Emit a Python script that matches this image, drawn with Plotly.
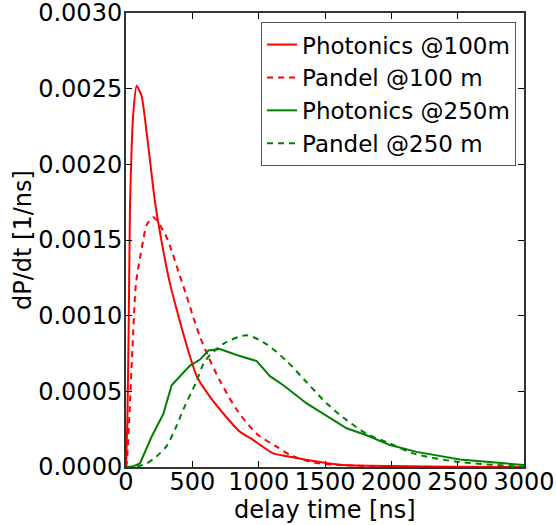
import plotly.graph_objects as go

# Photonics @100m
t_ph100 = [0, 10, 20, 30, 43, 55, 80, 118, 168, 219, 281, 332, 382, 432, 482, 533, 620, 708, 859, 960, 1110, 1286, 1613,
           2000, 2500, 3000]
v_ph100 = [0, 0.0003, 0.0009, 0.00172, 0.00212, 0.00234, 0.00252, 0.00245, 0.00212, 0.00175, 0.00143, 0.00121, 0.00104,
           0.00088, 0.00073, 0.0006, 0.00048, 0.00038, 0.000233, 0.000178, 0.00009, 0.00006, 0.000015, 0.000006,
           0.000002, 0.0]

# Pandel @100 m
t_pa100 = [0, 5, 25, 48, 75, 105, 130, 156, 206, 294, 344, 407, 457, 507, 558, 620, 708, 834, 985, 1136, 1236, 1412, 1613,
           2000, 3000]
v_pa100 = [0, 0.00002, 0.00033, 0.00077, 0.00121, 0.00138, 0.0015, 0.0016, 0.00165, 0.00154, 0.00143, 0.00126, 0.00113,
           0.00099, 0.00086, 0.00073, 0.00057, 0.00038, 0.00022, 0.000134, 0.00008, 0.00003, 0.000013, 0.000003, 0.0]

# Photonics @250m
t_ph250 = [0, 50, 105, 193, 281, 344, 482, 558, 620, 708, 834, 985, 1085, 1186, 1362, 1513, 1663, 1814, 1990, 2191, 2517, 3000]
v_ph250 = [0, 0.000003, 0.000024, 0.0002, 0.00035, 0.00054, 0.00067, 0.00071, 0.00077, 0.00078, 0.00074, 0.0007, 0.0006,
           0.00054, 0.00042, 0.00034, 0.000256, 0.00021, 0.000145, 0.0001, 0.00005, 0.000013]

# Pandel @250 m
t_pa250 = [0, 80, 156, 230, 307, 370, 432, 533, 583, 633, 746, 910, 1060, 1211, 1362, 1513, 1663, 1814, 1990, 2166, 2492, 3000]
v_pa250 = [0, 0.000003, 0.000024, 0.00007, 0.00014, 0.00025, 0.00038, 0.00057, 0.00068, 0.00074, 0.00082, 0.00087, 0.00081,
           0.0007, 0.00056, 0.00042, 0.00031, 0.00022, 0.000155, 0.00009, 0.000035, 0.000002]

x_ticks = [0, 500, 1000, 1500, 2000, 2500, 3000]
y_ticks = [0.0, 0.0005, 0.0010, 0.0015, 0.0020, 0.0025, 0.0030]
y_tick_text = ["0.0000", "0.0005", "0.0010", "0.0015", "0.0020", "0.0025", "0.0030"]

x_title = "delay time [ns]"
y_title = "dP/dt [1/ns]"

RED = "#ff0000"
GREEN = "#008000"
FONT = "DejaVu Sans"
FS = 24

fig = go.Figure()
fig.add_trace(go.Scatter(x=t_ph100, y=v_ph100, mode="lines", name="Photonics @100m",
                         line=dict(color=RED, width=2, shape="spline", smoothing=0.5)))
fig.add_trace(go.Scatter(x=t_pa100, y=v_pa100, mode="lines", name="Pandel @100 m",
                         line=dict(color=RED, width=2, dash="6px,5px", shape="spline", smoothing=0.8)))
fig.add_trace(go.Scatter(x=t_ph250, y=v_ph250, mode="lines", name="Photonics @250m",
                         line=dict(color=GREEN, width=2)))
fig.add_trace(go.Scatter(x=t_pa250, y=v_pa250, mode="lines", name="Pandel @250 m",
                         line=dict(color=GREEN, width=2, dash="6px,5px", shape="spline", smoothing=0.8)))

fig.update_layout(
    width=556, height=525,
    margin=dict(l=126, r=32, t=13, b=58, autoexpand=False),
    paper_bgcolor="white", plot_bgcolor="white",
    font=dict(family=FONT, size=FS, color="black"),
    showlegend=True,
    legend=dict(x=0.98, y=0.98, xanchor="right", yanchor="top",
                bgcolor="white", bordercolor="#555555", borderwidth=1,
                font=dict(family=FONT, size=23), tracegroupgap=0, itemwidth=30),
    annotations=[
        dict(text=x_title, xref="paper", yref="paper", x=0.5, y=-0.094, xanchor="center", yanchor="middle",
             showarrow=False, font=dict(family=FONT, size=FS)),
        dict(text=y_title, xref="paper", yref="paper", x=-0.2588, y=0.5, xanchor="center", yanchor="middle",
             textangle=-90, showarrow=False, font=dict(family=FONT, size=FS)),
    ],
)
fig.update_xaxes(range=[0, 3000], tickvals=x_ticks, ticks="inside", ticklen=6, tickwidth=1,
                 tickcolor="black", showline=True, linecolor="#333333", linewidth=2, mirror="ticks",
                 showgrid=False, zeroline=False, automargin=False, ticklabeloverflow="allow",
                 ticklabelstandoff=-8, tickfont=dict(size=FS))
fig.update_yaxes(range=[0, 0.003], tickvals=y_ticks, ticktext=y_tick_text, ticks="inside", ticklen=6,
                 tickwidth=1, tickcolor="black", showline=True, linecolor="#333333", linewidth=2,
                 mirror="ticks", showgrid=False, zeroline=False, automargin=False, ticklabeloverflow="allow",
                 ticklabelstandoff=-3, tickfont=dict(size=FS))

fig.write_html("out.html", config={"displayModeBar": False},
               post_script="document.body.style.margin='0';document.body.style.overflow='hidden';")
